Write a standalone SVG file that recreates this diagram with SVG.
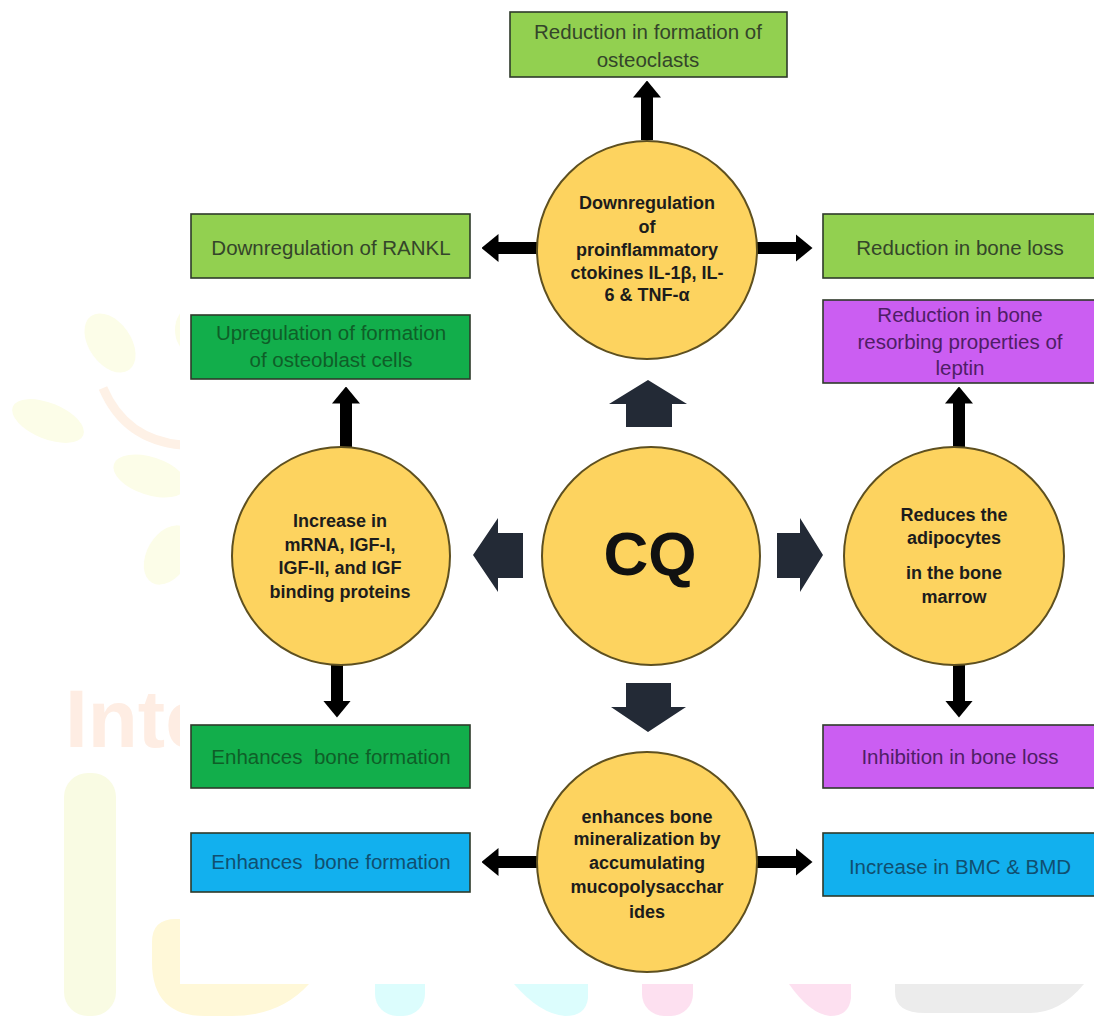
<svg xmlns="http://www.w3.org/2000/svg" width="1094" height="1016" viewBox="0 0 1094 1016">
<style>
.box{stroke:#2e3a2a;stroke-width:1.6}
.lg{fill:#92d050}
.dg{fill:#12ae4b}
.pu{fill:#cb5ef2}
.bl{fill:#12b0ee}
.bt{font-family:"Liberation Sans",Arial,sans-serif;font-size:20.5px;text-anchor:middle;white-space:pre}
.tlg{fill:#34452a}
.tdg{fill:#0f5e28}
.tpu{fill:#4f1d66}
.tbl{fill:#104f70}
.circ{fill:#fdd35f;stroke:#5e5020;stroke-width:2}
.ct{font-family:"Liberation Sans",Arial,sans-serif;font-weight:bold;font-size:18px;text-anchor:middle;fill:#1c1c1c}
.cq{font-family:"Liberation Sans",Arial,sans-serif;font-weight:bold;font-size:62px;text-anchor:middle;fill:#111}
.con{stroke:#000;stroke-width:12;fill:none;marker-end:url(#ah)}
.blk{fill:#232a36}
.wm{stroke:none}
.leaf{fill:#fcfde8}
</style>
<defs>
<marker id="ah" viewBox="0 0 17 28" refX="0.5" refY="14" markerWidth="17" markerHeight="28" markerUnits="userSpaceOnUse" orient="auto">
<path d="M0,0 L17,14 L0,28 z" fill="#000"/>
</marker>
</defs>

<g id="watermark">
<ellipse class="wm leaf" cx="110" cy="343" rx="33" ry="21" transform="rotate(55 110 343)"/>
<ellipse class="wm leaf" cx="48" cy="421" rx="38" ry="18" transform="rotate(22 48 421)"/>
<ellipse class="wm leaf" cx="150" cy="476" rx="38" ry="19" transform="rotate(18 150 476)"/>
<ellipse class="wm leaf" cx="168" cy="555" rx="21" ry="32" transform="rotate(30 168 555)"/>
<ellipse class="wm leaf" cx="190" cy="330" rx="15" ry="22"/>
<path d="M103,388 Q125,440 182,445" stroke="#fef1e6" stroke-width="9" fill="none"/>
<text x="65" y="747" font-family="'Liberation Sans',Arial,sans-serif" font-weight="bold" font-size="82" fill="#feede3">Inte</text>
<rect class="wm" x="64" y="773" width="52" height="243" rx="24" fill="#f9fbe3"/>
<path class="wm" d="M152,942 Q152,919 176,919 L182,919 L182,984 L309,984 Q280,1016 232,1016 L205,1016 Q152,1016 152,962 Z" fill="#fff8d8"/>
<rect class="wm" x="375" y="950" width="50" height="66" rx="22" fill="#dcfdfd"/>
<path class="wm" d="M514,984 L588,984 L588,998 Q586,1016 565,1016 Q540,1014 514,984 Z" fill="#dcfdfd"/>
<rect class="wm" x="642" y="950" width="51" height="66" rx="22" fill="#fde0f0"/>
<path class="wm" d="M789,984 L851,984 L851,998 Q849,1016 830,1016 Q810,1014 789,984 Z" fill="#fde0f0"/>
<path class="wm" d="M895,984 L1084,984 Q1060,1013 1030,1013 L925,1013 Q895,1013 895,992 Z" fill="#ececec"/>
<rect x="180" y="0" width="914" height="984" fill="#ffffff"/>
</g>

<g id="connectors">
<path class="con" d="M647,140 L647,97"/>
<path class="con" d="M539,248 L498,248"/>
<path class="con" d="M755,248 L796,248"/>
<path class="con" d="M346,448 L346,403"/>
<path class="con" d="M959,448 L959,403"/>
<path class="con" d="M337,664 L337,701"/>
<path class="con" d="M959,664 L959,701"/>
<path class="con" d="M539,862 L498,862"/>
<path class="con" d="M755,862 L796,862"/>
<polygon class="blk" points="648,380 687,404 672,404 672,427 626,427 626,404 609,404"/>
<polygon class="blk" points="473,555 498,518 498,533 523,533 523,578 498,578 498,592"/>
<polygon class="blk" points="823,555 800,518 800,533 777,533 777,578 800,578 800,592"/>
<polygon class="blk" points="648,732 686,707 671,707 671,683 626,683 626,707 611,707"/>
</g>

<g id="box-osteoclasts">
<rect class="box lg" x="510" y="12" width="277" height="65"/>
<text class="bt tlg" x="648" y="39">Reduction in formation of</text>
<text class="bt tlg" x="648" y="67">osteoclasts</text>
</g>
<g id="box-rankl">
<rect class="box lg" x="191" y="214" width="279" height="64"/>
<text class="bt tlg" x="331" y="255">Downregulation of RANKL</text>
</g>
<g id="box-boneloss">
<rect class="box lg" x="823" y="214" width="276" height="64"/>
<text class="bt tlg" x="960" y="255">Reduction in bone loss</text>
</g>
<g id="box-osteoblast">
<rect class="box dg" x="191" y="315" width="279" height="64"/>
<text class="bt tdg" x="331" y="340">Upregulation of formation</text>
<text class="bt tdg" x="331" y="367">of osteoblast cells</text>
</g>
<g id="box-leptin">
<rect class="box pu" x="823" y="300" width="276" height="83"/>
<text class="bt tpu" x="960" y="322">Reduction in bone</text>
<text class="bt tpu" x="960" y="349">resorbing properties of</text>
<text class="bt tpu" x="960" y="375">leptin</text>
</g>
<g id="box-enhances-green">
<rect class="box dg" x="191" y="725" width="279" height="63"/>
<text class="bt tdg" x="331" y="764">Enhances  bone formation</text>
</g>
<g id="box-inhibition">
<rect class="box pu" x="823" y="725" width="276" height="63"/>
<text class="bt tpu" x="960" y="764">Inhibition in bone loss</text>
</g>
<g id="box-enhances-blue">
<rect class="box bl" x="191" y="833" width="279" height="59"/>
<text class="bt tbl" x="331" y="869">Enhances  bone formation</text>
</g>
<g id="box-bmc">
<rect class="box bl" x="823" y="833" width="276" height="63"/>
<text class="bt tbl" x="960" y="874">Increase in BMC &amp; BMD</text>
</g>

<g id="circle-top">
<ellipse class="circ" cx="647" cy="250" rx="110" ry="109"/>
<text class="ct" x="647" y="209">Downregulation</text>
<text class="ct" x="647" y="233">of</text>
<text class="ct" x="647" y="256">proinflammatory</text>
<text class="ct" x="647" y="279">ctokines IL-1β, IL-</text>
<text class="ct" x="647" y="301">6 &amp; TNF-α</text>
</g>
<g id="circle-left">
<ellipse class="circ" cx="341" cy="556" rx="109" ry="109"/>
<text class="ct" x="340" y="527">Increase in</text>
<text class="ct" x="340" y="551">mRNA, IGF-I,</text>
<text class="ct" x="340" y="574">IGF-II, and IGF</text>
<text class="ct" x="340" y="598">binding proteins</text>
</g>
<g id="circle-cq">
<ellipse class="circ" cx="651" cy="556" rx="109" ry="109"/>
<text class="cq" x="650" y="575">CQ</text>
</g>
<g id="circle-right">
<ellipse class="circ" cx="954" cy="556" rx="110" ry="109"/>
<text class="ct" x="954" y="521">Reduces the</text>
<text class="ct" x="954" y="544">adipocytes</text>
<text class="ct" x="954" y="579">in the bone</text>
<text class="ct" x="954" y="603">marrow</text>
</g>
<g id="circle-bottom">
<ellipse class="circ" cx="647" cy="862" rx="110" ry="110"/>
<text class="ct" x="647" y="823">enhances bone</text>
<text class="ct" x="647" y="845">mineralization by</text>
<text class="ct" x="647" y="869">accumulating</text>
<text class="ct" x="647" y="893">mucopolysacchar</text>
<text class="ct" x="647" y="918">ides</text>
</g>
</svg>
